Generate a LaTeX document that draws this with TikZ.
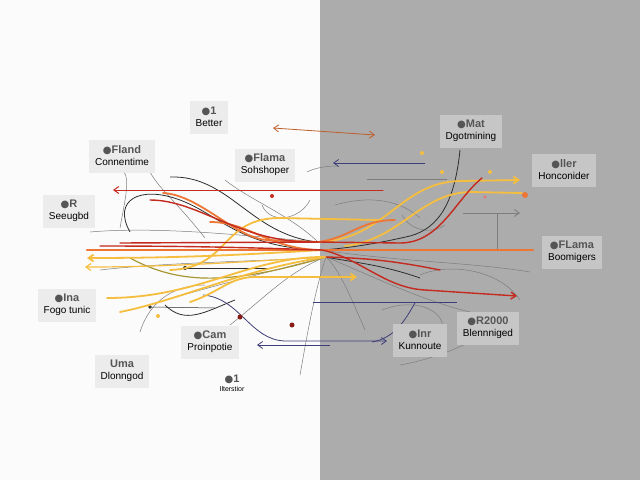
\documentclass[tikz,border=0pt]{standalone}
\usepackage{fontspec}
\setmainfont{Liberation Sans}
\newfontfamily\symfont{DejaVu Sans}
\usetikzlibrary{arrows.meta}

\definecolor{leftbg}{RGB}{251,251,251}
\definecolor{rightbg}{RGB}{172,172,172}
\definecolor{boxL}{RGB}{236,236,236}
\definecolor{boxR}{RGB}{198,198,198}
\definecolor{titgray}{RGB}{85,85,85}
\definecolor{orangeL}{RGB}{238,118,52}
\definecolor{redL}{RGB}{196,42,30}
\definecolor{yellowL}{RGB}{246,190,62}
\definecolor{goldL}{RGB}{170,150,50}
\definecolor{wireGray}{RGB}{125,125,125}
\definecolor{wireDark}{RGB}{45,45,45}
\definecolor{blueL}{RGB}{62,62,120}

\newcommand{\ttl}[1]{{\color{titgray}\fontsize{11}{12}\bfseries{\symfont\fontsize{10}{12}\selectfont ●}#1}}

\begin{document}
\begin{tikzpicture}[x=1pt,y=-1pt,
  flowO/.style={draw=orangeL,line width=1.8pt,line cap=round},
  flowR/.style={draw=redL,line width=1.4pt,line cap=round},
  flowY/.style={draw=yellowL,line width=1.8pt,line cap=round},
  flowG/.style={draw=goldL,line width=1.2pt},
  wireG/.style={draw=wireGray,line width=0.5pt},
  wireK/.style={draw=wireDark,line width=0.8pt},
  wireB/.style={draw=blueL,line width=0.8pt},
  tip/.style={-{Straight Barb[length=5pt,width=7pt]}},
  lblL/.style={fill=boxL,align=center,inner xsep=6pt,minimum height=33pt,
    font=\fontsize{10}{12}\selectfont},
  lblR/.style={lblL,fill=boxR}]

  %% Background halves
  \useasboundingbox (0,0) rectangle (640,480);
  \fill[leftbg] (0,0) rectangle (320,480);
  \fill[rightbg] (320,0) rectangle (640,480);

  %% Crossing points of the bundle
  \coordinate (hubA) at (318,242);
  \coordinate (hub) at (322,250);
  \coordinate (hubB) at (326,257);

  %% Thin gray wires
  \draw[wireG] (120,228) .. controls (125,200) and (130,180) .. (124,172);
  \draw[wireG] (150,172) .. controls (160,190) and (175,200) .. (205,238);
  \draw[wireG] (90,232) .. controls (160,226) and (250,236) .. (hubA);
  \draw[wireG] (100,270) .. controls (170,262) and (250,262) .. (hubB);
  \draw[wireG] (165,300) .. controls (200,290) and (255,275) .. (hubB);
  \draw[wireG] (140,332) .. controls (150,300) and (175,285) .. (205,285);
  \draw[wireG] (230,325) .. controls (262,300) and (290,270) .. (hubB);
  \draw[wireG] (300,375) .. controls (308,330) and (315,290) .. (hubB);
  \draw[wireG] (262,205) .. controls (270,225) and (300,220) .. (310,200);
  \draw[wireG] (225,180) .. controls (250,200) and (290,215) .. (hubA);
  \draw[wireG] (307,172) .. controls (315,168) and (325,166) .. (338,166);
  \draw[wireG] (367,179) -- (447,179);
  \draw[wireG] (335,205) .. controls (370,195) and (400,200) .. (420,218);
  \draw[wireG] (365,330) .. controls (352,300) and (340,270) .. (hubB);
  \draw[wireG] (hubB) .. controls (370,275) and (420,300) .. (470,312);
  \draw[wireG] (hub) .. controls (400,262) and (470,262) .. (530,272);
  \draw[wireG] (402,215) .. controls (410,230) and (430,235) .. (445,225);
  \draw[wireG] (420,275) .. controls (450,262) and (500,270) .. (520,300);
  \draw[wireG] (382,310) .. controls (420,295) and (452,315) .. (440,335);
  \draw[wireG] (490,330) .. controls (470,345) and (430,360) .. (400,365);
  \coordinate (gArrT) at (463,213);
  \coordinate (gArrH) at (520,213);
  \draw[wireG,line width=0.8pt,tip] (gArrT) -- (gArrH);
  \draw[wireG,line width=0.8pt] (497,213) -- (497,250);

  %% Dark wires
  \draw[wireK] (170,177) .. controls (230,175) and (250,235) .. (hubA);
  \draw[wireK] (130,232) .. controls (112,200) and (140,185) .. (180,200)
                         .. controls (220,215) and (240,248) .. (hub);
  \draw[wireK] (460,150) .. controls (455,200) and (440,228) .. (410,236)
                         .. controls (380,243) and (350,248) .. (hub);
  \draw[wireK] (hubB) .. controls (350,262) and (380,264) .. (420,278);
  \draw[wireK] (165,305) .. controls (185,325) and (205,312) .. (235,300);
  \coordinate (dotK) at (185,268);
  \fill[wireDark] (dotK) circle (2);
  \draw[wireK] (dotK) -- (267,268);
  \fill[wireDark] (150,307) circle (1.8);
  \draw[wireK,line width=0.5pt] (150,307) -- (215,308);

  %% Blue wires
  \coordinate (bTipR) at (387,341);
  \coordinate (bTipL) at (257,345);
  \coordinate (blueTail) at (425,163);
  \coordinate (blueTip) at (333,163);
  \draw[wireB,tip] (203,295) .. controls (240,298) and (250,340) .. (285,341) -- (bTipR);
  \draw[wireB,tip] (330,345) -- (bTipL);
  \draw[wireB] (313,302) -- (457,302);
  \draw[wireB] (415,303) .. controls (405,320) and (395,338) .. (372,342);
  \draw[wireB,tip] (blueTail) -- (blueTip);

  %% Gold and yellow flows
  \draw[flowG] (130,258) .. controls (180,285) and (230,285) .. (hubB);
  \coordinate (yelTipA) at (87,258);
  \coordinate (yelTipD) at (85,267);
  \coordinate (yelTipB) at (520,180);
  \coordinate (yelTipC) at (357,277);
  \draw[flowY,tip] (hub) .. controls (240,255) and (180,258) .. (yelTipA);
  \draw[flowY,line width=1.2pt,tip] (hubB) .. controls (240,262) and (170,267) .. (yelTipD);
  \draw[flowY] (107,298) .. controls (200,298) and (250,256) .. (hubB);
  \draw[flowY] (170,270) .. controls (230,268) and (220,218) .. (280,218) -- (380,220);
  \draw[flowY,tip] (hubA) .. controls (385,240) and (400,182) .. (460,181) -- (yelTipB);
  \draw[flowY] (345,246) .. controls (400,240) and (420,193) .. (470,192) -- (522,193);
  \draw[flowY,tip] (190,302) .. controls (220,292) and (230,277) .. (255,277) -- (yelTipC);
  \draw[flowY] (120,312) .. controls (180,300) and (240,270) .. (hubB);

  %% Orange flows
  \draw[flowO,line width=2.4pt] (87,250) -- (533,250);
  \draw[flowO] (163,193) .. controls (200,195) and (235,238) .. (267,240) -- (hubA);
  \draw[flowO] (210,222) .. controls (250,222) and (270,250) .. (hub);
  \draw[flowO] (hubA) .. controls (350,238) and (360,220) .. (395,220);

  %% Red flows
  \coordinate (redTail) at (383,190);
  \coordinate (redTip) at (113,190);
  \coordinate (redUp) at (482,178);
  \coordinate (redDown) at (517,296);
  \draw[flowR,line width=1pt,tip] (redTail) -- (redTip);
  \draw[flowR] (120,243) -- (hubA) -- (400,243)
                .. controls (440,243) and (455,200) .. (redUp);
  \draw[flowR] (100,246) .. controls (200,246) and (260,248) .. (hub);
  \draw[flowR,tip] (hub) .. controls (360,258) and (385,288) .. (425,290) -- (redDown);
  \draw[flowR] (150,200) .. controls (200,200) and (240,244) .. (hubA);
  \draw[flowR] (hubB) .. controls (370,258) and (400,262) .. (440,270);

  %% Double arrow at the top
  \coordinate (topL) at (273,128);
  \coordinate (topR) at (375,135);
  \draw[draw=orangeL!80!black,line width=0.8pt,{Straight Barb[length=5pt,width=7pt]}-{Straight Barb[length=5pt,width=7pt]}] (topL) -- (topR);

  %% Dots
  \fill[redL!70!black] (292,325) circle (2.5);
  \fill[redL!70!black] (240,317) circle (2.5);
  \fill[redL] (272,196) circle (2);
  \fill[orangeL] (525,195) circle (3);
  \fill[redL!60] (485,197) circle (1.8);
  \fill[yellowL] (422,153) circle (2);
  \fill[yellowL] (442,172) circle (2);
  \fill[yellowL] (490,172) circle (2);
  \fill[yellowL] (158,316) circle (2);

  %% Labels, white half
  \foreach \nm/\x/\y/\hdr/\txt in {better/209/117/1/Better,
      fland/122/156/Fland/Connentime, flama/265/165/Flama/Sohshoper,
      seeu/69/211/R/Seeugbd, fogo/67/305/Ina/Fogo tunic,
      proin/210/342/Cam/Proinpotie}
  {
    \node[lblL] (\nm) at (\x,\y) {\ttl{\hdr}\\\txt};
  }
  \node[lblL] (dlon) at (122,371)
    {{\color{titgray}\fontsize{11}{12}\bfseries Uma}\\Dlonngod};
  \node[align=center,font=\rmfamily\fontsize{7}{9}\selectfont] (ilter) at (232,383)
    {\ttl{1}\\Ilterstior};

  %% Labels, gray half
  \foreach \nm/\x/\y/\hdr/\txt in {dgot/471/131/Mat/Dgotmining,
      honc/564/170/ller/Honconider, boom/572/252/FLama/Boomigers,
      kunn/420/340/Inr/Kunnoute, blenn/488/328/R2000/Blennniged}
  {
    \node[lblR] (\nm) at (\x,\y) {\ttl{\hdr}\\\txt};
  }

\end{tikzpicture}
\end{document}
